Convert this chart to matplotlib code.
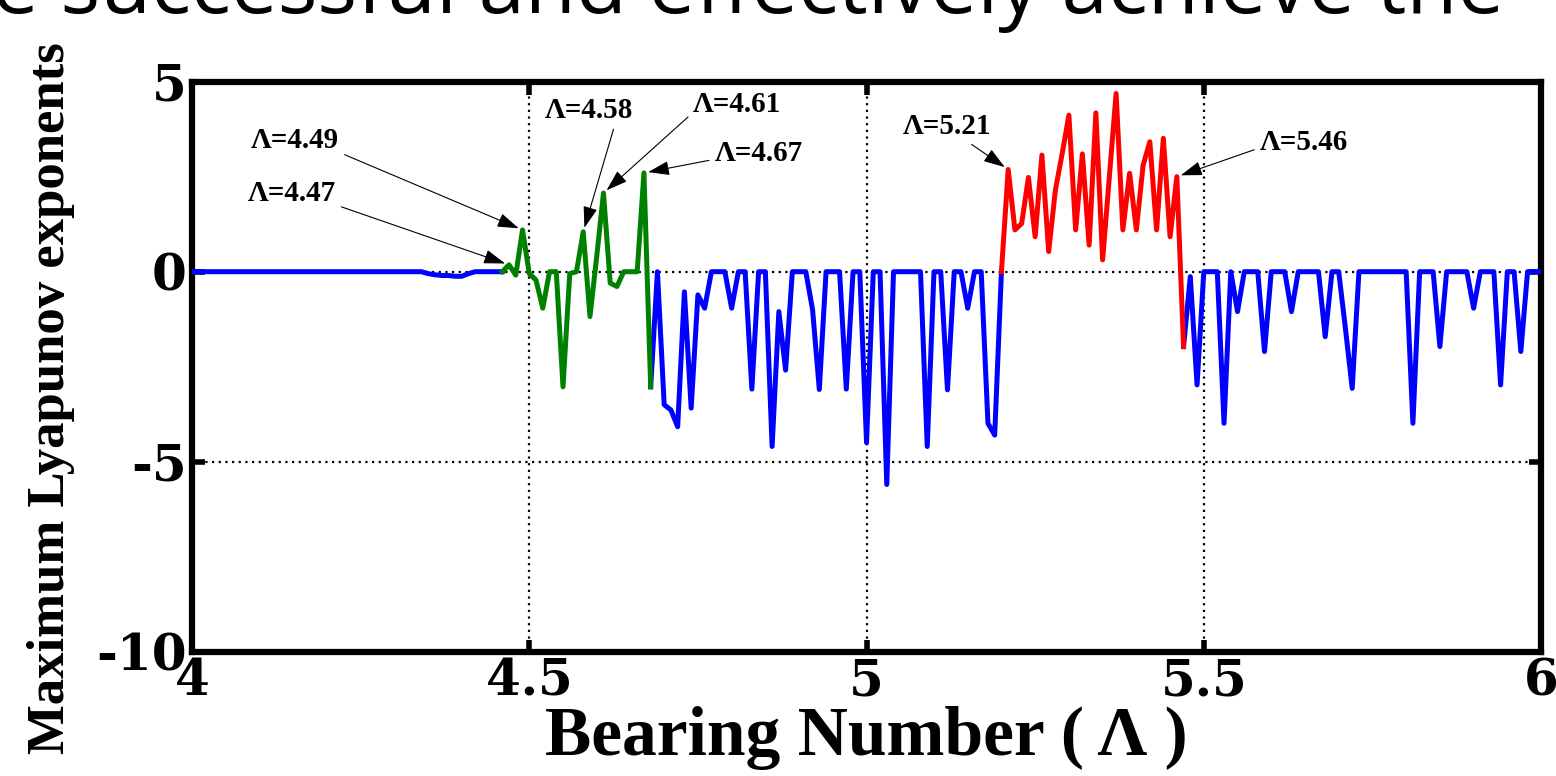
import numpy as np
import matplotlib
matplotlib.use("Agg")
import matplotlib.pyplot as plt

# bearing number grid (step 0.01) and read-off maximum Lyapunov exponents
bearing = np.round(np.arange(4.00, 6.001, 0.01), 2)
lyap = [
    0, 0, 0, 0, 0, 0, 0, 0, 0, 0,                                   # 4.00
    0, 0, 0, 0, 0, 0, 0, 0, 0, 0,                                   # 4.10
    0, 0, 0, 0, 0, 0, 0, 0, 0, 0,                                   # 4.20
    0, 0, 0, 0, 0, -0.05, -0.08, -0.10, -0.10, -0.12,               # 4.30
    -0.12, -0.05, 0, 0, 0, 0, 0, 0.18, -0.09, 1.10,                 # 4.40
    -0.05, -0.22, -0.96, 0, 0, -3.03, -0.05, 0, 1.05, -1.18,        # 4.50
    0.40, 2.07, -0.30, -0.39, 0, 0, 0, 2.60, -3.03, 0,              # 4.60
    -3.50, -3.64, -4.08, -0.53, -3.59, -0.61, -0.96, 0, 0, 0,       # 4.70
    -0.96, 0, 0, -3.09, 0, 0, -4.60, -1.05, -2.59, 0,               # 4.80
    0, 0, -1.00, -3.10, 0, 0, 0, -3.09, 0, 0,                       # 4.90
    -4.50, 0, 0, -5.60, 0, 0, 0, 0, 0, -4.60,                       # 5.00
    0, 0, -3.11, 0, 0, -0.96, 0, 0, -3.99, -4.30,                   # 5.10
    0, 2.69, 1.10, 1.27, 2.48, 0.92, 3.07, 0.53, 2.15, 3.10,        # 5.20
    4.12, 1.10, 3.10, 0.70, 4.18, 0.31, 2.50, 4.69, 1.10, 2.59,     # 5.30
    1.10, 2.80, 3.42, 1.10, 3.51, 0.92, 2.50, -1.97, -0.13, -2.98,  # 5.40
    0, 0, 0, -3.99, 0, -1.05, 0, 0, 0, -2.10,                       # 5.50
    0, 0, 0, -1.05, 0, 0, 0, 0, -1.71, 0,                           # 5.60
    0, -1.50, -3.07, 0, 0, 0, 0, 0, 0, 0,                           # 5.70
    0, -3.99, 0, 0, 0, -1.97, 0, 0, 0, 0,                           # 5.80
    -0.96, 0, 0, 0, -2.98, 0, 0, -2.10, 0, 0,                       # 5.90
    0,                                                              # 6.00
]
lyap = np.array(lyap, dtype=float)

green_range = (4.46, 4.68)
red_range = (5.20, 5.47)

# annotation labels: (text, bearing value, text x, text y, arrow start on text)
labels = [
    ("Λ=4.49", 4.49, 4.153, 3.45, (0.9, 0.2)),
    ("Λ=4.47", 4.47, 4.148, 2.05, (0.9, 0.2)),
    ("Λ=4.58", 4.58, 4.588, 4.25, (0.8, 0.0)),
    ("Λ=4.61", 4.61, 4.808, 4.40, (0.0, 0.2)),
    ("Λ=4.67", 4.67, 4.840, 3.10, (0.0, 0.3)),
    ("Λ=5.21", 5.21, 5.120, 3.82, (0.7, 0.0)),
    ("Λ=5.46", 5.46, 5.648, 3.40, (0.0, 0.3)),
]

xtick_vals = [4, 4.5, 5, 5.5, 6]
xtick_text = ["4", "4.5", "5", "5.5", "6"]
ytick_vals = [-10, -5, 0, 5]
ytick_text = ["-10", "-5", "0", "5"]

plt.rcParams["font.family"] = ["Liberation Serif", "DejaVu Serif"]
plt.rcParams["font.weight"] = "bold"
plt.rcParams["axes.unicode_minus"] = False

fig = plt.figure(figsize=(15.56, 7.76), dpi=100)
ax = fig.add_axes([0.1234, 0.1602, 0.867, 0.7345])

lw = 3.6
g0 = np.searchsorted(bearing, green_range[0])
g1 = np.searchsorted(bearing, green_range[1])
r0 = np.searchsorted(bearing, red_range[0])
r1 = np.searchsorted(bearing, red_range[1])
for a, b in [(0, g0), (g1, r0), (r1, len(bearing) - 1)]:
    ax.plot(bearing[a:b + 1], lyap[a:b + 1], color="#0000ff", lw=lw, zorder=3)
ax.plot(bearing[g0:g1 + 1], lyap[g0:g1 + 1], color="#008000", lw=lw, zorder=3)
ax.plot(bearing[r0:r1 + 1], lyap[r0:r1 + 1], color="#ff0000", lw=lw, zorder=3)

for text, bx, tx, ty, rp in labels:
    i = np.searchsorted(bearing, bx)
    ax.annotate(text, xy=(bearing[i], lyap[i]), xytext=(tx, ty),
                ha="center", va="center", fontsize=21, fontweight="bold",
                arrowprops=dict(arrowstyle="-|>,head_length=0.6,head_width=0.2",
                                color="black", lw=0.8, relpos=rp,
                                mutation_scale=22, shrinkA=2, shrinkB=3))

ax.set_xlim(4, 6)
ax.set_ylim(-10, 5)
ax.set_xticks(xtick_vals)
ax.set_xticklabels(xtick_text, fontfamily="DejaVu Serif", fontsize=36,
                   fontweight="bold")
ax.set_yticks(ytick_vals)
ax.set_yticklabels(ytick_text, fontfamily="DejaVu Serif", fontsize=36,
                   fontweight="bold")
ax.grid(True, color="black", linestyle=(0, (1, 2)), lw=1.6)
ax.tick_params(direction="in", length=9, width=4, top=True, right=True, pad=4)
for s in ax.spines.values():
    s.set_linewidth(4.5)

ax.set_xlabel("Bearing Number ( Λ )", fontsize=50, fontweight="bold", labelpad=0)
ax.set_ylabel("Maximum Lyapunov exponents", fontsize=38, fontweight="bold")
ax.yaxis.set_label_coords(-0.087, 0.445)

# slide title text cut off at the top edge
fig.text(-0.005, 1 - 13 / 776, "e successful and effectively achieve the",
         fontsize=60, family="Open Sans", fontweight="normal",
         ha="left", va="baseline")

fig.savefig("out.png", dpi=100)
